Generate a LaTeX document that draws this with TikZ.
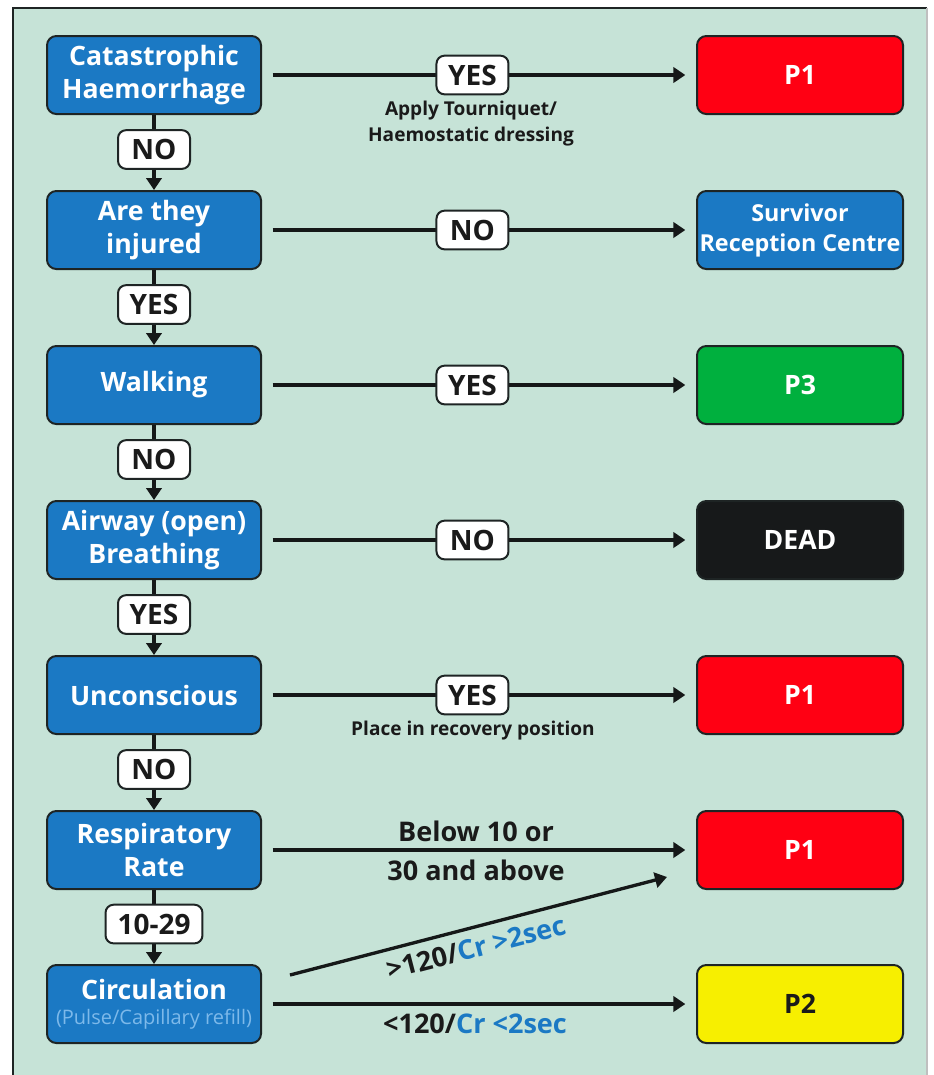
\documentclass[tikz,border=0pt]{standalone}
\usepackage{fontspec}
\setmainfont{Open Sans}
\usetikzlibrary{arrows.meta}
\definecolor{panel}{HTML}{C6E3D7}
\definecolor{nhsblue}{HTML}{1B79C4}
\definecolor{boxline}{HTML}{1E2424}
\definecolor{linec}{HTML}{151818}
\definecolor{pred}{HTML}{FF0013}
\definecolor{pgreen}{HTML}{00B03E}
\definecolor{pyellow}{HTML}{F7EF00}
\definecolor{pblack}{HTML}{17191A}
\definecolor{subblue}{HTML}{7DB9EA}
\definecolor{txt}{HTML}{1A1A1A}
\newcommand{\qfont}{\bfseries\fontsize{20}{24.5}\selectfont}
\newcommand{\sfont}{\bfseries\fontsize{17.5}{22.5}\selectfont}
\newcommand{\lblfont}{\bfseries\fontsize{21}{24}\selectfont}
\newcommand{\notefont}{\bfseries\fontsize{14.3}{19.5}\selectfont}
\newcommand{\bigfont}{\bfseries\fontsize{20.3}{29}\selectfont}
\begin{document}
\begin{tikzpicture}[x=0.75pt,y=-0.75pt,
  qbox/.style={draw=boxline, line width=1.5pt, fill=nhsblue, rounded corners=7pt,
    minimum width=160.5pt, minimum height=58.5pt, text=white, font=\qfont,
    align=center, inner sep=0pt},
  rbox/.style={draw=boxline, line width=1.5pt, rounded corners=7pt,
    minimum width=154.5pt, minimum height=58.5pt, text=white, font=\qfont,
    align=center, inner sep=0pt},
  lbl/.style={draw=boxline, fill=white, line width=1.5pt, rounded corners=6pt,
    minimum width=54pt, minimum height=29pt, font=\lblfont, text=txt,
    inner xsep=6pt, inner ysep=0pt},
  arr/.style={line width=2.5pt, draw=linec, -{Triangle[length=9pt,width=11.5pt]}},
  harr/.style={arr, shorten <=8pt, shorten >=8pt},
  note/.style={font=\notefont, text=txt, align=center},
  bignote/.style={font=\bigfont, text=txt, align=center},
]
\useasboundingbox (0,0) rectangle (933,1075);
% panel
\fill[panel] (13,8) rectangle (927,1075);
\draw[boxline, line width=1.6pt] (13,1075) -- (13,8) -- (927,8);
\draw[black!25, line width=0.8pt] (927,8) -- (927,1075);

% left column
\node[qbox] (q1) at (154,75)  {Catastrophic\\Haemorrhage};
\node[qbox] (q2) at (154,230) {Are they\\injured};
\node[qbox] (q3) at (154,385) {Walking};
\node[qbox] (q4) at (154,540) {Airway (open)\\Breathing};
\node[qbox] (q5) at (154,695) {Unconscious};
\node[qbox] (q6) at (154,850) {Respiratory\\Rate};
\node[qbox] (q7) at (154,1004) {Circulation\\[-6pt]{\color{subblue}\fontsize{15}{17}\selectfont\mdseries (Pulse/Capillary refill)}};

% right column
\node[rbox, fill=pred] (r1) at (800,75) {P1};
\node[rbox, fill=nhsblue, font=\sfont] (r2) at (800,230) {Survivor\\Reception Centre};
\node[rbox, fill=pgreen] (r3) at (800,385) {P3};
\node[rbox, fill=pblack] (r4) at (800,540) {DEAD};
\node[rbox, fill=pred] (r5) at (800,695) {P1};
\node[rbox, fill=pred] (r6) at (800,850) {P1};
\node[rbox, fill=pyellow, text=txt] (r7) at (800,1004) {P2};

% vertical connectors
\draw[arr] (q1.south) -- node[lbl, pos=0.46] (v1) {NO} (q2.north);
\draw[arr] (q2.south) -- node[lbl, pos=0.46] (v2) {YES} (q3.north);
\draw[arr] (q3.south) -- node[lbl, pos=0.46] (v3) {NO} (q4.north);
\draw[arr] (q4.south) -- node[lbl, pos=0.46] (v4) {YES} (q5.north);
\draw[arr] (q5.south) -- node[lbl, pos=0.46] (v5) {NO} (q6.north);
\draw[arr] (q6.south) -- node[lbl, pos=0.46, inner xsep=9pt] (v6) {10-29} (q7.north);

% horizontal connectors
\draw[harr] (q1.east) -- node[lbl, pos=0.485] (h1) {YES} (r1.west);
\draw[harr] (q2.east) -- node[lbl, pos=0.485] (h2) {NO} (r2.west);
\draw[harr] (q3.east) -- node[lbl, pos=0.485] (h3) {YES} (r3.west);
\draw[harr] (q4.east) -- node[lbl, pos=0.485] (h4) {NO} (r4.west);
\draw[harr] (q5.east) -- node[lbl, pos=0.485] (h5) {YES} (r5.west);
\draw[harr] (q6.east) -- (r6.west);
\draw[harr] (q7.east) -- (r7.west);

\node[note] (n1) at (471,124) {Apply Tourniquet/\\Haemostatic dressing};
\node[note] (n5) at (473,731) {Place in recovery position};
\node[bignote] (n6) at (476,851) {Below 10 or\\30 and above};
\node[bignote] (n7) at (475,1024) {<120/{\color{nhsblue}Cr <2sec}};

% diagonal
\coordinate (d1) at (290,975);
\coordinate (d2) at (667,877);
\draw[arr] (d1) -- node[sloped, below=3pt, pos=0.48, bignote] (n8) {>120/{\color{nhsblue}Cr >2sec}} (d2);
\end{tikzpicture}
\end{document}
